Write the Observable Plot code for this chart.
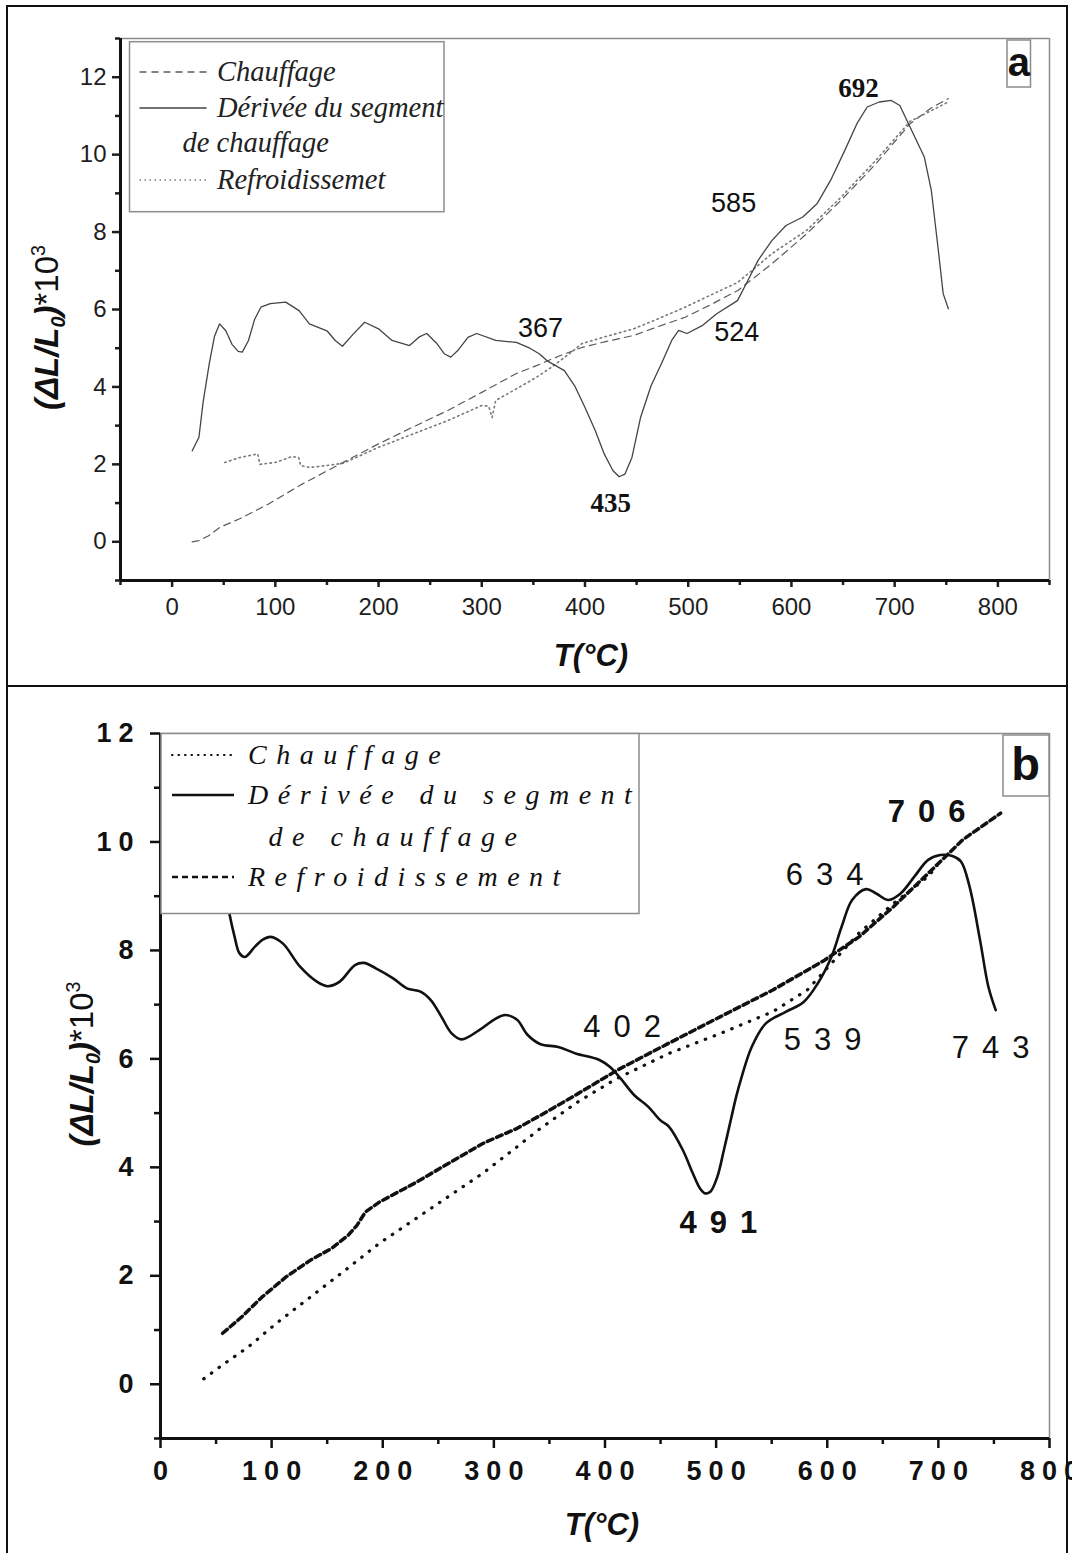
<!DOCTYPE html>
<html><head><meta charset="utf-8">
<script src="https://cdn.jsdelivr.net/npm/d3@7"></script>
<script src="https://cdn.jsdelivr.net/npm/@observablehq/plot@0.6"></script>
<style>
body{margin:0;background:#fff}
#wrap{position:relative;width:1072px;height:1553px;overflow:hidden;background:#fff}
#pa,#pb,#ov{position:absolute;left:0}
#pa{top:0}#pb{top:686px}#ov{top:0;pointer-events:none}
</style></head><body>
<div id="wrap"><div id="pa"></div><div id="pb"></div></div>
<script>
// ---------------- DATA ----------------
// Panel a : T (°C), (ΔL/L0)*10^3
const deriveeA = [[19.5,2.35],[26,2.7],[30,3.6],[36,4.6],[41,5.3],[46,5.63],[52,5.45],[58,5.1],[64,4.92],[68,4.9],[74,5.2],[80,5.75],[86,6.06],[95,6.15],[110,6.19],[123,5.97],[133,5.63],[150,5.45],[158,5.2],[165,5.05],[175,5.35],[186.5,5.67],[200,5.5],[213,5.2],[230,5.07],[240,5.3],[246.6,5.38],[256.5,5.12],[264,4.85],[270,4.77],[276.7,4.94],[286.6,5.28],[295,5.38],[313.5,5.2],[333.5,5.15],[346.6,5.0],[356,4.85],[363,4.68],[380,4.42],[390,4.03],[400,3.47],[410,2.87],[418.6,2.27],[427,1.84],[433,1.68],[438.7,1.75],[445.5,2.18],[453.8,3.21],[464,4.03],[474,4.6],[484,5.2],[490.7,5.46],[498.8,5.38],[514,5.59],[527.6,5.89],[547.7,6.23],[557.8,6.75],[567.7,7.27],[581,7.78],[594.7,8.17],[611,8.39],[625,8.74],[638,9.34],[651.7,10.11],[663.4,10.8],[673.4,11.23],[685,11.36],[696.7,11.4],[705,11.27],[715,10.71],[728.7,9.94],[735.5,9.08],[742.3,7.53],[747,6.41],[752,6.02]];
const chauffageA = [[19.5,0.0],[26,0.03],[35,0.15],[46,0.37],[66,0.6],[93,0.97],[126,1.49],[160,1.97],[200,2.53],[233,2.96],[267,3.39],[300,3.86],[333,4.34],[353,4.55],[375,4.8],[397,5.02],[420,5.17],[447,5.33],[470,5.55],[497,5.8],[520,6.1],[548,6.49],[581,7.18],[615,7.96],[648,8.82],[682,9.77],[715,10.8],[735,11.2],[752,11.45]];
const refroidA = [[51,2.05],[66,2.18],[83,2.27],[85,2.0],[100,2.05],[116,2.2],[122.6,2.18],[124.5,1.97],[133,1.92],[150,1.97],[166,2.03],[200,2.44],[233,2.78],[267,3.13],[300,3.52],[306.7,3.5],[310,3.21],[313.5,3.65],[333.5,3.95],[353,4.25],[367,4.5],[387,4.9],[397,5.12],[420,5.3],[447,5.5],[470,5.75],[497,6.06],[520,6.35],[548,6.7],[581,7.44],[615,8.05],[648,8.9],[682,9.86],[715,10.86],[752,11.36]];
const peakLabelsA = ["692","435","585","367","524"];
const peakTA = [665,425,544,357,547];
const peakVA = [11.7,1.0,8.75,5.5,5.4];
const peakBoldA = [true,true,false,false,false];

// Panel b
const deriveeB = [[57,9.3],[62,8.68],[66.7,8.25],[71,7.95],[76,7.88],[85,8.07],[92,8.2],[99,8.25],[110,8.13],[125.6,7.7],[141,7.42],[150.4,7.34],[161,7.42],[175,7.73],[183,7.77],[193.8,7.67],[209,7.49],[221.7,7.3],[234,7.24],[243.4,7.08],[252.7,6.78],[262,6.47],[271,6.36],[286.8,6.53],[300,6.72],[310,6.81],[320.9,6.72],[330,6.45],[342,6.27],[358,6.22],[373.5,6.1],[395,5.98],[404.6,5.85],[414,5.64],[426.4,5.33],[438.8,5.12],[449.7,4.87],[457.5,4.75],[470,4.32],[479,3.89],[485.5,3.61],[490,3.52],[494.8,3.55],[501,3.82],[507,4.32],[513.5,4.9],[518,5.3],[523,5.67],[532,6.22],[544.5,6.65],[563,6.87],[578.8,7.05],[591.4,7.39],[603.7,7.88],[613,8.44],[622.4,8.93],[634.9,9.13],[644,9.05],[655,8.93],[666,9.05],[678.4,9.36],[690.8,9.67],[701.7,9.76],[712.6,9.74],[720.3,9.64],[728,9.18],[737.5,8.19],[745,7.33],[751.6,6.9]];
const chauffageB = [[38.9,0.1],[57.4,0.38],[79.2,0.69],[104,1.12],[135,1.61],[166,2.1],[197,2.6],[228,3.03],[259,3.46],[290,3.89],[321,4.38],[342,4.72],[375,5.2],[410.8,5.64],[457.5,6.1],[504,6.47],[551,6.87],[582,7.27],[603.7,7.76],[628.6,8.32],[659.8,8.87],[690.8,9.36],[701.7,9.64]];
const refroidB = [[55.9,0.94],[73,1.24],[91.5,1.61],[113,1.98],[135,2.29],[153.5,2.5],[169,2.75],[176.8,2.93],[184.5,3.18],[197,3.36],[228,3.7],[259,4.07],[290,4.44],[321,4.72],[342,4.96],[375,5.35],[410.8,5.79],[457.5,6.29],[504,6.78],[551,7.27],[597.5,7.82],[628.6,8.25],[659.8,8.81],[690.8,9.42],[721.9,10.04],[756,10.53]];
const peakLabelsB = ["706","491","634","402","539","743"];
const peakTB = [689.5,502,597.7,415.5,595.8,747];
const peakVB = [10.55,2.97,9.39,6.59,6.35,6.2];
const peakBoldB = [true,true,false,false,false,false];

// Axes
const xDomainA = [-50, 850], yDomainA = [-1, 13];
const xTicksA = [0,100,200,300,400,500,600,700,800];
const xMinorA = [-50,50,150,250,350,450,550,650,750,850];
const yTicksA = [0,2,4,6,8,10,12];
const yMinorA = [-1,1,3,5,7,9,11,13];
const xDomainB = [0, 800], yDomainB = [-1, 12];
const xTicksB = [0,100,200,300,400,500,600,700,800];
const xMinorB = [50,150,250,350,450,550,650,750];
const yTicksB = [0,2,4,6,8,10,12];
const yMinorB = [-1,1,3,5,7,9,11];

const xTitle = "T(°C)";
const yTitle = "(ΔL/L0)*103";
const legendA = ["Chauffage", "Dérivée du segment", "de chauffage", "Refroidissemet"];
const legendB = ["Chauffage", "Dérivée du segment", "de chauffage", "Refroidissement"];
const panelNames = ["a", "b"];

// ---------------- HELPERS ----------------
const rows = p => p.map(([T, v]) => ({T, v}));
const peaks = (L, T, V, B) => L.map((label, i) => ({label, T: T[i], v: V[i], bold: B[i]}));
const SANS = "'Liberation Sans', Arial, Helvetica, sans-serif";
const SERIF = "'Liberation Serif', 'Times New Roman', serif";

// ---------------- PANEL A ----------------
const pkA = peaks(peakLabelsA, peakTA, peakVA, peakBoldA);
const plotA = Plot.plot({
  width: 1072, height: 686,
  marginLeft: 120, marginRight: 23, marginTop: 38, marginBottom: 106,
  x: {domain: xDomainA}, y: {domain: yDomainA},
  style: {fontFamily: SANS, fontSize: "24px", color: "#1e1e1e", background: "transparent", overflow: "visible"},
  marks: [
    Plot.ruleY([yDomainA[1]], {stroke: "#8c8c8c", strokeWidth: 1.5}),
    Plot.ruleX([xDomainA[1]], {stroke: "#8c8c8c", strokeWidth: 1.5}),
    Plot.line(rows(chauffageA), {x: "T", y: "v", stroke: "#5a5a5a", strokeWidth: 1.2, strokeDasharray: "7,5"}),
    Plot.line(rows(refroidA), {x: "T", y: "v", stroke: "#7a7a7a", strokeWidth: 1.6, strokeDasharray: "1.5,3.5"}),
    Plot.line(rows(deriveeA), {x: "T", y: "v", stroke: "#444", strokeWidth: 1.3}),
    Plot.axisX({ticks: xTicksA, tickSize: 7, tickPadding: 10, strokeWidth: 2.5, fontSize: 24, label: null}),
    Plot.axisX({ticks: xMinorA, tickSize: 5, strokeWidth: 2.5, tickFormat: () => "", label: null}),
    Plot.axisY({ticks: yTicksA, tickSize: 8, tickPadding: 6, strokeWidth: 2.5, fontSize: 24, label: null}),
    Plot.axisY({ticks: yMinorA, tickSize: 5, strokeWidth: 2.5, tickFormat: () => "", label: null}),
    Plot.ruleY([yDomainA[0]], {stroke: "#111", strokeWidth: 3}),
    Plot.ruleX([xDomainA[0]], {stroke: "#111", strokeWidth: 3}),
    Plot.text(pkA.filter(d => d.bold), {x: "T", y: "v", text: "label", fontFamily: SERIF, fontWeight: "bold", fontSize: 27, fill: "#111"}),
    Plot.text(pkA.filter(d => !d.bold), {x: "T", y: "v", text: "label", fontFamily: SANS, fontSize: 27, fill: "#111"}),
    Plot.text([xTitle], {text: d => d, frameAnchor: "bottom", lineAnchor: "middle", dx: 6, dy: 76, fontFamily: SANS, fontStyle: "italic", fontWeight: "bold", fontSize: 31, fill: "#111"}),
    Plot.text([yTitle], {text: d => d, frameAnchor: "left", textAnchor: "middle", lineAnchor: "middle", rotate: -90, dx: -73, dy: 18, fontFamily: SANS, fontSize: 33, fill: "#111"})
  ]
});
document.getElementById("pa").append(plotA);

// ---------------- PANEL B ----------------
const pkB = peaks(peakLabelsB, peakTB, peakVB, peakBoldB);
const plotB = Plot.plot({
  width: 1072, height: 867,
  marginLeft: 160, marginRight: 23, marginTop: 47, marginBottom: 115,
  x: {domain: xDomainB}, y: {domain: yDomainB},
  style: {fontFamily: SANS, fontSize: "27px", color: "#111", background: "transparent", overflow: "visible"},
  marks: [
    Plot.ruleY([yDomainB[1]], {stroke: "#8c8c8c", strokeWidth: 1.5}),
    Plot.ruleX([xDomainB[1]], {stroke: "#8c8c8c", strokeWidth: 1.5}),
    Plot.line(rows(chauffageB), {x: "T", y: "v", stroke: "#111", strokeWidth: 3.2, strokeDasharray: "0.5,9", strokeLinecap: "round"}),
    Plot.line(rows(refroidB), {x: "T", y: "v", stroke: "#111", strokeWidth: 3.5, strokeDasharray: "6,4"}),
    Plot.line(rows(deriveeB), {x: "T", y: "v", stroke: "#111", strokeWidth: 2.6, curve: "catmull-rom"}),
    Plot.axisX({ticks: xTicksB, tickSize: 10, tickPadding: 12, strokeWidth: 2.5, fontSize: 27, fontWeight: "bold", label: null}),
    Plot.axisX({ticks: xMinorB, tickSize: 6, strokeWidth: 2.5, tickFormat: () => "", label: null}),
    Plot.axisY({ticks: yTicksB, tickSize: 10, tickPadding: 10, strokeWidth: 2.5, fontSize: 27, fontWeight: "bold", label: null}),
    Plot.axisY({ticks: yMinorB, tickSize: 6, strokeWidth: 2.5, tickFormat: () => "", label: null}),
    Plot.ruleY([yDomainB[0]], {stroke: "#111", strokeWidth: 3}),
    Plot.ruleX([xDomainB[0]], {stroke: "#111", strokeWidth: 3}),
    Plot.text(pkB.filter(d => d.bold), {x: "T", y: "v", text: "label", fontFamily: SANS, fontWeight: "bold", fontSize: 31, fill: "#111"}),
    Plot.text(pkB.filter(d => !d.bold), {x: "T", y: "v", text: "label", fontFamily: SANS, fontSize: 31, fill: "#111"}),
    Plot.text([xTitle], {text: d => d, frameAnchor: "bottom", lineAnchor: "middle", dx: -3, dy: 87, fontFamily: SANS, fontStyle: "italic", fontWeight: "bold", fontSize: 31, fill: "#111"}),
    Plot.text([yTitle], {text: d => d, frameAnchor: "left", textAnchor: "middle", lineAnchor: "middle", rotate: -90, dx: -78, dy: -22, fontFamily: SANS, fontSize: 33, fill: "#111"})
  ]
});
document.getElementById("pb").append(plotB);

// ---------------- POST STYLING ----------------
function richYTitle(svg) {
  d3.select(svg).selectAll("text").filter(function() { return this.textContent === yTitle; }).each(function() {
    const t = d3.select(this); t.text(null);
    const bi = s => t.append("tspan").attr("font-weight", "bold").attr("font-style", "italic").text(s);
    bi("(ΔL/L");
    bi("0").attr("font-size", "0.6em").attr("dy", "7");
    bi(")").attr("dy", "-7");
    t.append("tspan").text("*10");
    t.append("tspan").attr("font-size", "0.6em").attr("dy", "-13").text("3");
  });
}
richYTitle(plotA); richYTitle(plotB);
// letter spacing in panel b
d3.select(plotB).selectAll("text").each(function() {
  const s = this.textContent;
  if (peakLabelsB.includes(s)) { d3.select(this).style("letter-spacing", "13px").attr("dx", 6.5); }
  else if (/^\d+$/.test(s)) {
    d3.select(this).style("letter-spacing", "7px");
    if (this.closest('g[aria-label="x-axis tick label"]')) d3.select(this).attr("dx", 3.5);
  }
});

// ---------------- OVERLAY: frames, legends, panel tags ----------------
const ov = d3.select("#wrap").append("svg").attr("id", "ov").attr("width", 1072).attr("height", 1553);
// legend a
const la = ov.append("g");
la.append("rect").attr("x", 129.5).attr("y", 41.7).attr("width", 314.5).attr("height", 170).attr("fill", "#fff").attr("stroke", "#8c8c8c").attr("stroke-width", 1.5);
const laRows = [72, 108, 143, 180];
const laDash = ["7,5", null, "skip", "1.5,3.5"];
const laCol = ["#5a5a5a", "#444", "", "#7a7a7a"];
legendA.forEach((s, i) => {
  if (laDash[i] !== "skip") la.append("line").attr("x1", 139.5).attr("x2", 206.6).attr("y1", laRows[i]).attr("y2", laRows[i])
    .attr("stroke", laCol[i]).attr("stroke-width", i === 3 ? 1.6 : 1.3).attr("stroke-dasharray", laDash[i]);
  la.append("text").attr("x", i === 2 ? 182.5 : 217).attr("y", laRows[i] + 9).text(s)
    .attr("font-family", SERIF).attr("font-style", "italic").attr("font-size", 28.5).attr("fill", "#222");
});
// tag a
ov.append("rect").attr("x", 1007).attr("y", 40).attr("width", 23.5).attr("height", 47).attr("fill", "#fff").attr("stroke", "#8c8c8c").attr("stroke-width", 1.5);
ov.append("text").attr("x", 1018.8).attr("y", 76).attr("text-anchor", "middle").text(panelNames[0])
  .attr("font-family", SANS).attr("font-weight", "bold").attr("font-size", 40).attr("fill", "#111");
// legend b
const lb = ov.append("g");
lb.append("rect").attr("x", 161).attr("y", 733.5).attr("width", 478).attr("height", 180).attr("fill", "#fff").attr("stroke", "#8c8c8c").attr("stroke-width", 1.5);
const lbRows = [755, 795, 837, 877];
const lbDash = ["0.5,6", null, "skip", "6,4"];
legendB.forEach((s, i) => {
  if (lbDash[i] !== "skip") lb.append("line").attr("x1", 172).attr("x2", 234).attr("y1", lbRows[i]).attr("y2", lbRows[i])
    .attr("stroke", "#111").attr("stroke-width", i === 0 ? 2.2 : 2.5).attr("stroke-dasharray", lbDash[i])
    .attr("stroke-linecap", i === 0 ? "round" : "butt");
  lb.append("text").attr("x", i === 2 ? 268.6 : 248).attr("y", lbRows[i] + 9).text(s)
    .attr("font-family", SERIF).attr("font-style", "italic").attr("font-size", 28).attr("fill", "#111")
    .style("letter-spacing", "9.5px");
});
// tag b
ov.append("rect").attr("x", 1003).attr("y", 735).attr("width", 46).attr("height", 61).attr("fill", "#fff").attr("stroke", "#8c8c8c").attr("stroke-width", 1.5);
ov.append("text").attr("x", 1025.5).attr("y", 780).attr("text-anchor", "middle").text(panelNames[1])
  .attr("font-family", SANS).attr("font-weight", "bold").attr("font-size", 47).attr("fill", "#111");
// outer panel borders
ov.append("rect").attr("x", 7).attr("y", 6).attr("width", 1060).attr("height", 680).attr("fill", "none").attr("stroke", "#111").attr("stroke-width", 2);
ov.append("rect").attr("x", 7).attr("y", 686).attr("width", 1060).attr("height", 880).attr("fill", "none").attr("stroke", "#111").attr("stroke-width", 2);
</script>
</body></html>
